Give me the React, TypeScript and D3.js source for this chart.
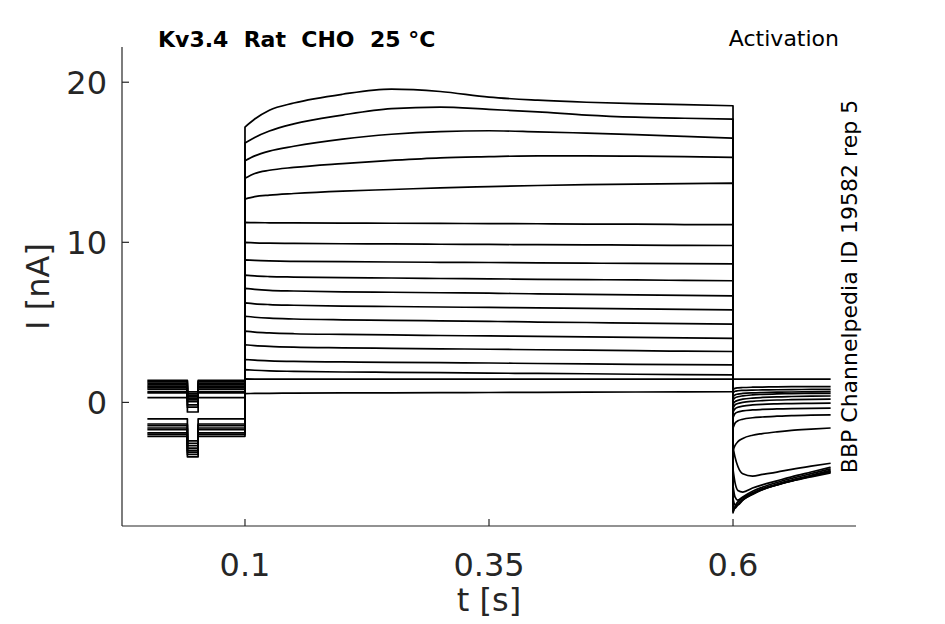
import React from "react";
import * as d3 from "d3";

// ---------- data ----------
const xTicks = [0.1, 0.35, 0.6];
const yTicks = [0, 10, 20];
const xDomain = [-0.026, 0.726];
const yDomain = [-7.72, 22.2];

// pre-pulse (0 .. 0.1 s) with a short test dip
const preEdges = [0, 0.041, 0.052, 0.1];
const preLevel = [1.3, -1.03, 1.2, -1.35, 1.1, -1.45, 1.0, -1.6, 0.92, -1.7, 0.83, -1.9, 0.68, -2.0, 0.3, -2.12, 1.38, 0.6];
const dipLevel = [0.55, -2.4, 0.45, -2.55, 0.35, -2.7, 0.25, -2.85, 0.16, -3.0, 0.05, -3.1, -0.16, -3.25, -0.6, -3.4, 0.66, -0.3];

// activation step (0.1 .. 0.6 s)
const stepTimes = [0.1, 0.11, 0.125, 0.15, 0.2, 0.25, 0.3, 0.35, 0.4, 0.45, 0.5, 0.55, 0.6];
const step0 = [17.2, 17.7, 18.25, 18.7, 19.25, 19.57, 19.42, 19.07, 18.88, 18.75, 18.66, 18.6, 18.53];
const step1 = [16.2, 16.55, 16.95, 17.4, 17.95, 18.35, 18.45, 18.3, 18.15, 17.95, 17.82, 17.75, 17.7];
const step2 = [15.1, 15.4, 15.7, 16.0, 16.45, 16.75, 16.92, 16.97, 16.9, 16.82, 16.73, 16.62, 16.5];
const step3 = [14.0, 14.3, 14.5, 14.68, 14.92, 15.12, 15.28, 15.35, 15.4, 15.4, 15.38, 15.35, 15.3];
const step4 = [12.7, 12.85, 12.95, 13.05, 13.2, 13.3, 13.4, 13.48, 13.55, 13.6, 13.64, 13.67, 13.7];
const step5 = [11.25, 11.23, 11.22, 11.21, 11.2, 11.19, 11.18, 11.17, 11.16, 11.14, 11.13, 11.11, 11.1];
const step6 = [10.0, 9.97, 9.95, 9.93, 9.91, 9.9, 9.88, 9.87, 9.85, 9.84, 9.83, 9.81, 9.8];
const step7 = [8.9, 8.87, 8.84, 8.81, 8.79, 8.77, 8.75, 8.74, 8.72, 8.7, 8.68, 8.67, 8.65];
const step8 = [7.95, 7.9, 7.86, 7.83, 7.79, 7.77, 7.74, 7.72, 7.69, 7.67, 7.65, 7.62, 7.6];
const step9 = [7.12, 7.06, 7.0, 6.96, 6.91, 6.88, 6.85, 6.82, 6.78, 6.75, 6.72, 6.69, 6.66];
const step10 = [6.22, 6.16, 6.11, 6.07, 6.02, 5.99, 5.96, 5.93, 5.9, 5.87, 5.84, 5.81, 5.78];
const step11 = [5.38, 5.32, 5.26, 5.21, 5.16, 5.13, 5.09, 5.06, 5.02, 4.99, 4.95, 4.92, 4.89];
const step12 = [4.45, 4.39, 4.34, 4.29, 4.25, 4.22, 4.18, 4.15, 4.12, 4.09, 4.06, 4.03, 4.0];
const step13 = [3.6, 3.55, 3.5, 3.45, 3.41, 3.38, 3.35, 3.32, 3.29, 3.26, 3.23, 3.2, 3.18];
const step14 = [2.68, 2.64, 2.6, 2.56, 2.53, 2.5, 2.48, 2.46, 2.43, 2.41, 2.38, 2.36, 2.34];
const step15 = [2.05, 2.01, 1.97, 1.94, 1.9, 1.88, 1.86, 1.83, 1.81, 1.79, 1.76, 1.74, 1.72];
const step16 = [1.47, 1.46, 1.46, 1.45, 1.45, 1.45, 1.45, 1.45, 1.45, 1.45, 1.45, 1.45, 1.45];
const step17 = [0.55, 0.56, 0.57, 0.58, 0.59, 0.6, 0.61, 0.62, 0.63, 0.64, 0.65, 0.66, 0.67];

// tail currents (0.6 .. 0.7 s)
const tailTimes = [0.6, 0.602, 0.605, 0.61, 0.62, 0.63, 0.645, 0.66, 0.68, 0.7];
const tail0 = [-6.9, -6.5, -6.2, -5.95, -5.65, -5.42, -5.15, -4.92, -4.65, -4.4];
const tail1 = [-6.8, -6.6, -6.35, -6.05, -5.7, -5.45, -5.15, -4.9, -4.6, -4.35];
const tail2 = [-6.5, -6.6, -6.4, -6.1, -5.75, -5.45, -5.15, -4.9, -4.6, -4.3];
const tail3 = [-6.0, -6.4, -6.4, -6.1, -5.7, -5.4, -5.1, -4.85, -4.55, -4.25];
const tail4 = [-5.2, -5.9, -6.1, -5.9, -5.55, -5.3, -5.0, -4.75, -4.45, -4.15];
const tail5 = [-4.2, -5.0, -5.5, -5.6, -5.35, -5.15, -4.9, -4.65, -4.35, -4.05];
const tail6 = [-2.8, -3.4, -4.0, -4.45, -4.6, -4.5, -4.35, -4.18, -3.98, -3.8];
const tail7 = [-3.0, -2.7, -2.45, -2.25, -2.05, -1.95, -1.84, -1.75, -1.67, -1.6];
const tail8 = [-1.6, -1.3, -1.15, -1.05, -0.96, -0.91, -0.86, -0.82, -0.8, -0.78];
const tail9 = [-0.95, -0.7, -0.6, -0.53, -0.47, -0.44, -0.41, -0.39, -0.37, -0.36];
const tail10 = [-0.6, -0.4, -0.3, -0.23, -0.16, -0.12, -0.09, -0.07, -0.06, -0.05];
const tail11 = [-0.35, -0.16, -0.07, 0.0, 0.07, 0.11, 0.15, 0.17, 0.19, 0.2];
const tail12 = [-0.1, 0.05, 0.13, 0.2, 0.27, 0.31, 0.35, 0.37, 0.39, 0.4];
const tail13 = [0.15, 0.28, 0.35, 0.41, 0.47, 0.5, 0.53, 0.55, 0.56, 0.57];
const tail14 = [0.35, 0.47, 0.52, 0.56, 0.6, 0.62, 0.64, 0.65, 0.66, 0.67];
const tail15 = [0.6, 0.7, 0.73, 0.75, 0.77, 0.78, 0.79, 0.8, 0.81, 0.82];
const tail16 = [1.45, 1.45, 1.45, 1.45, 1.45, 1.45, 1.45, 1.45, 1.45, 1.45];
const tail17 = [0.8, 0.88, 0.91, 0.93, 0.95, 0.96, 0.97, 0.98, 0.985, 0.99];

const stepValues = [step0, step1, step2, step3, step4, step5, step6, step7, step8, step9, step10, step11, step12, step13, step14, step15, step16, step17];
const tailValues = [tail0, tail1, tail2, tail3, tail4, tail5, tail6, tail7, tail8, tail9, tail10, tail11, tail12, tail13, tail14, tail15, tail16, tail17];

const titleText = "Kv3.4  Rat  CHO  25 °C";
const protocolText = "Activation";
const sourceText = "BBP Channelpedia ID 19582 rep 5";
const xLabel = "t [s]";
const yLabel = "I [nA]";

// ---------- layout ----------
const W = 945;
const H = 624;
const left = 122;
const right = 856;
const top = 47;
const bottom = 526;
const axisColor = "#262626";
const font = "'DejaVu Sans', sans-serif";

export default function App() {
  const x = d3.scaleLinear().domain(xDomain).range([left, right]);
  const y = d3.scaleLinear().domain(yDomain).range([bottom, top]);

  const linear = d3
    .line<[number, number]>()
    .x((d) => x(d[0]))
    .y((d) => y(d[1]));
  const smooth = d3
    .line<[number, number]>()
    .x((d) => x(d[0]))
    .y((d) => y(d[1]))
    .curve(d3.curveMonotoneX);

  const paths = stepValues.map((sv, i) => {
    const p = preLevel[i];
    const dp = dipLevel[i];
    const prePts: [number, number][] = [
      [preEdges[0], p],
      [preEdges[1], p],
      [preEdges[1], dp],
      [preEdges[2], dp],
      [preEdges[2], p],
      [preEdges[3], p],
    ];
    const stepPts: [number, number][] = stepTimes.map((t, k) => [t, sv[k]]);
    const tailPts: [number, number][] = tailTimes.map((t, k) => [t, tailValues[i][k]]);
    const d =
      (linear(prePts) || "") +
      (smooth(stepPts) || "").replace(/^M/, "L") +
      (smooth(tailPts) || "").replace(/^M/, "L");
    return d;
  });

  return (
    <svg
      width={W}
      height={H}
      style={{ position: "absolute", left: 0, top: 0, background: "#fff" }}
    >
      <rect x={0} y={0} width={W} height={H} fill="#fff" />
      <g fill="none" stroke="#000" strokeWidth={1.7} strokeLinejoin="round">
        {paths.map((d, i) => (
          <path key={i} d={d} />
        ))}
      </g>

      {/* axes */}
      <g stroke={axisColor} strokeWidth={1.2} fill="none">
        <line x1={left} x2={right} y1={bottom} y2={bottom} />
        <line x1={left} x2={left} y1={top} y2={bottom} />
        {xTicks.map((t) => (
          <line key={"xt" + t} x1={x(t)} x2={x(t)} y1={bottom} y2={bottom - 7} />
        ))}
        {yTicks.map((t) => (
          <line key={"yt" + t} x1={left} x2={left + 7} y1={y(t)} y2={y(t)} />
        ))}
      </g>
      <g fill={axisColor} fontFamily={font} fontSize={32}>
        {xTicks.map((t) => (
          <text key={"xl" + t} x={x(t)} y={576} textAnchor="middle">
            {String(t)}
          </text>
        ))}
        {yTicks.map((t) => (
          <text key={"yl" + t} x={107} y={y(t) + 12} textAnchor="end">
            {String(t)}
          </text>
        ))}
        <text x={(left + right) / 2} y={611} textAnchor="middle">
          {xLabel}
        </text>
        <text
          transform={`translate(49,${(top + bottom) / 2}) rotate(-90)`}
          textAnchor="middle"
        >
          {yLabel}
        </text>
      </g>

      <text
        x={158}
        y={47}
        fontFamily={font}
        fontWeight="bold"
        fontSize={22}
        fill="#000"
        style={{ whiteSpace: "pre" }}
      >
        {titleText}
      </text>
      <text x={839} y={46} fontFamily={font} fontSize={22} fill="#000" textAnchor="end">
        {protocolText}
      </text>
      <text
        transform={`translate(857,${(top + bottom) / 2}) rotate(-90)`}
        fontFamily={font}
        fontSize={22}
        fill="#000"
        textAnchor="middle"
      >
        {sourceText}
      </text>
    </svg>
  );
}
